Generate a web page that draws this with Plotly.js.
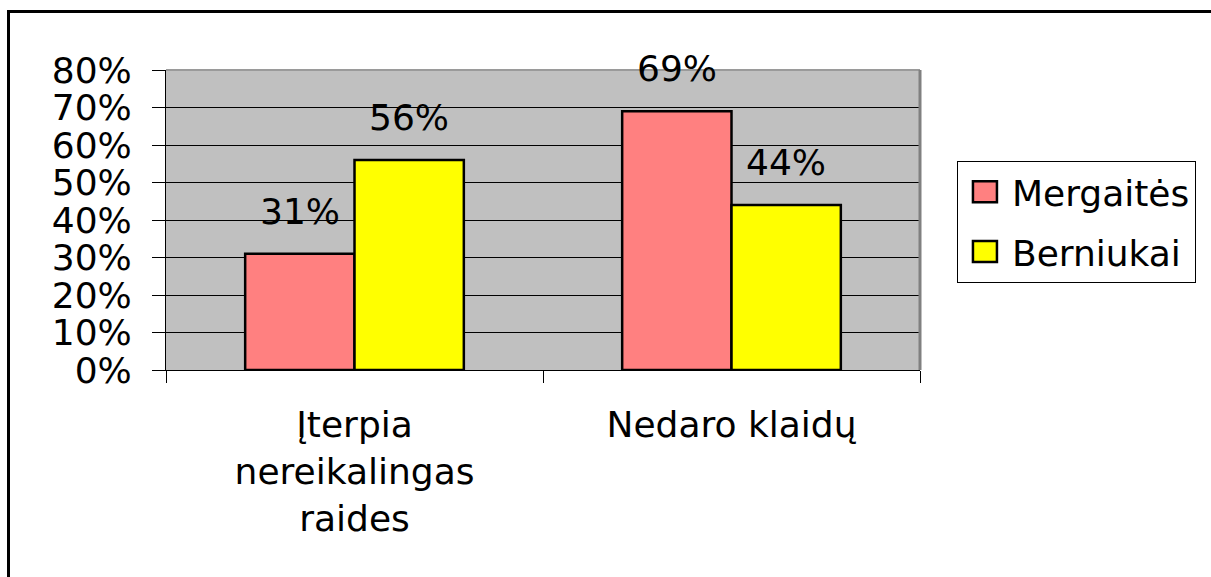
<!DOCTYPE html>
<html>
<head>
<meta charset="utf-8">
<script src="https://cdn.plot.ly/plotly-3.0.1.min.js"></script>
<style>
  html, body { margin: 0; padding: 0; background: #fff; overflow: hidden; }
  #wrap { position: relative; width: 1211px; height: 577px; }
  #chart { position: absolute; left: 0; top: 0; width: 1211px; height: 577px; }
  #frame { position: absolute; left: 7px; top: 10px; width: 1400px; height: 800px;
           border-top: 3px solid #000; border-left: 3px solid #000; pointer-events: none; }
</style>
</head>
<body>
<div id="wrap">
  <div id="chart"></div>
  <div id="frame"></div>
</div>
<script>
// ---- data ----
const categories = ["Įterpia<br>nereikalingas<br>raides", "Nedaro klaidų"];
const seriesNames = ["Mergaitės", "Berniukai"];
const mergaites = [31, 69];
const berniukai = [56, 44];
const yTickVals = [0, 10, 20, 30, 40, 50, 60, 70, 80];

// ---- style ----
const FONT = "DejaVu Sans, Arial, sans-serif";
const colors = ["#FF8080", "#FFFF00"];
const bargap = 0.42;
const seriesValues = [mergaites, berniukai];

const traces = seriesValues.map((vals, i) => ({
  type: "bar",
  name: seriesNames[i],
  x: categories,
  y: vals,
  marker: { color: colors[i], line: { color: "#000", width: 2.5 } },
  legendgroup: "g" + i,
  hoverinfo: "skip"
}));

// data labels above each bar
const nSeries = seriesValues.length;
const barW = (1 - bargap) / nSeries;
const annotations = [];
seriesValues.forEach((vals, s) => {
  vals.forEach((v, c) => {
    annotations.push({
      xref: "x", yref: "y",
      x: c - (1 - bargap) / 2 + barW * (s + 0.5),
      y: v,
      text: v + "%",
      showarrow: false,
      yanchor: "bottom",
      yshift: 20,
      font: { family: FONT, size: 36, color: "#000" }
    });
  });
});

const layout = {
  width: 1211, height: 577,
  margin: { l: 166, r: 291, t: 70, b: 207 },
  paper_bgcolor: "rgba(0,0,0,0)",
  plot_bgcolor: "#C0C0C0",
  barmode: "group",
  bargap: bargap,
  bargroupgap: 0,
  font: { family: FONT, size: 36, color: "#000" },
  xaxis: {
    type: "category",
    tickson: "boundaries",
    ticks: "outside", ticklen: 12, tickcolor: "#000", tickwidth: 1,
    showline: true, linecolor: "#000", linewidth: 1,
    showgrid: false,
    ticklabelstandoff: 23,
    tickfont: { family: FONT, size: 36, color: "#000" },
    fixedrange: true
  },
  yaxis: {
    range: [0, 80],
    tickvals: yTickVals,
    ticktext: yTickVals.map(v => v + "%"),
    ticks: "outside", ticklen: 13, tickcolor: "#000", tickwidth: 1,
    showline: true, linecolor: "#000", linewidth: 1,
    showgrid: true, gridcolor: "#000", gridwidth: 1,
    zeroline: false,
    ticklabelstandoff: 13,
    tickfont: { family: FONT, size: 36, color: "#000" },
    fixedrange: true
  },
  legend: {
    x: 1.049, xanchor: "left",
    y: 0.697, yanchor: "top",
    bordercolor: "#000", borderwidth: 1,
    bgcolor: "#fff",
    font: { family: FONT, size: 36, color: "#000" },
    traceorder: "grouped",
    tracegroupgap: 10,
    itemwidth: 44
  },
  shapes: [
    { type: "line", xref: "paper", yref: "paper", x0: 0, x1: 1, y0: 1, y1: 1,
      line: { color: "#9A9A9A", width: 2 }, layer: "above" },
    { type: "line", xref: "paper", yref: "paper", x0: 1, x1: 1, y0: 0, y1: 1,
      line: { color: "#808080", width: 3 }, layer: "above" }
  ],
  annotations: annotations,
  showlegend: true
};

Plotly.newPlot("chart", traces, layout, { displayModeBar: false, staticPlot: true }).then(() => {
  document.querySelectorAll("#chart .legendpoints path").forEach(p => {
    p.setAttribute("d", "M12,10.5H-12V-10.5H12Z");
    p.style.strokeWidth = "2.5px";
  });
});
</script>
</body>
</html>
